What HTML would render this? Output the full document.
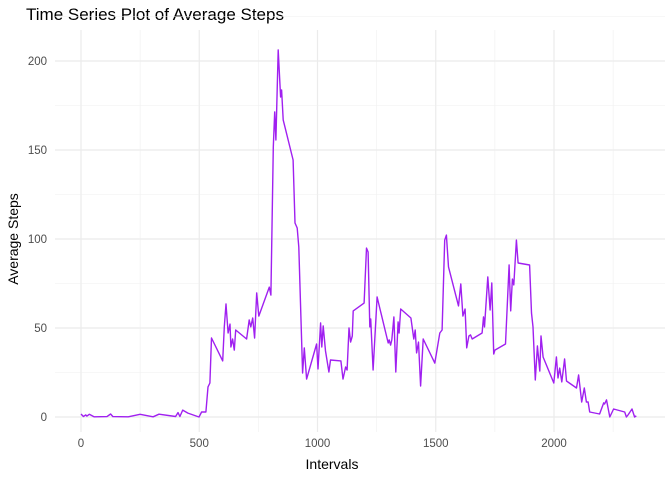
<!DOCTYPE html>
<html><head><meta charset="utf-8"><style>
body{margin:0;background:#fff;}
text{font-family:"Liberation Sans",sans-serif;}
</style></head><body>
<svg id="chart" width="672" height="480">
<text x="26" y="20" font-size="17" fill="#000">Time Series Plot of Average Steps</text>
<text x="332" y="469" font-size="14" text-anchor="middle" fill="#000">Intervals</text>
<text transform="translate(18,239) rotate(-90)" font-size="14" text-anchor="middle" fill="#000">Average Steps</text>
<g id="grid"></g><g id="ticks"></g><g id="series"></g>
</svg>
<script>
const intervals=[0,10,20,25,35,55,110,125,135,200,250,305,330,400,410,418,430,452,499,510,528,537,545,552,599,606,613,622,630,634,641,648,654,700,711,718,726,734,743,752,796,803,813,819,824,834,844,848,855,897,905,914,921,937,944,954,996,1002,1013,1018,1024,1034,1048,1055,1099,1108,1119,1125,1133,1140,1147,1151,1197,1207,1214,1221,1225,1235,1252,1299,1303,1309,1314,1323,1331,1341,1345,1352,1395,1407,1413,1419,1427,1436,1447,1496,1503,1517,1527,1538,1545,1554,1596,1606,1615,1624,1631,1640,1647,1654,1696,1702,1706,1720,1730,1737,1745,1750,1795,1810,1817,1824,1830,1841,1848,1897,1905,1911,1921,1930,1940,1945,1954,1999,2010,2017,2024,2033,2045,2053,2095,2104,2117,2128,2137,2144,2151,2193,2210,2214,2222,2236,2252,2299,2306,2313,2330,2341,2348];
const steps=[1.7,0.3,1.2,0.5,1.5,0.1,0.2,1.7,0.2,0.1,1.5,0.1,1.6,0.3,2.5,0.3,3.9,2.2,0,2.8,2.8,16.9,19.1,44.4,31.5,50.6,63.5,47.2,52.2,39.3,43.8,37.6,48.9,43.8,54.5,50.6,55.6,44.4,69.7,56.7,73,68.5,151.7,171.4,155.6,206.2,179.8,183.7,166.9,144.4,109,106.2,95.5,24.7,38.8,21.3,41,27,52.8,39.3,51.1,37.1,25.3,32,31.5,21.3,28.1,26.4,50,42.1,45.5,59.6,64,94.9,92.7,50.6,55.1,26.4,67.4,41.6,43.3,40.4,43.3,56.2,25.3,53.4,47.2,60.7,55.6,43.8,48.9,36,42.1,17.4,43.8,30.3,36,47.2,48.9,99.4,102.2,84.3,62.4,74.7,56.7,60.7,38.8,45.5,46.1,43.8,47.2,56.2,50.6,78.7,60.1,75.3,35.4,37.6,41,85.4,59.6,77.5,74.2,99.4,86.5,85.4,58.4,50.6,20.8,39.9,25.8,45.5,33.7,19.1,33.7,21.9,27.5,19.7,32.6,20.2,16.3,23.6,8.4,16.3,8.4,8.4,2.8,1.7,7.9,7.3,9.6,0,4.5,2.8,0,1.1,4.5,0,0.6];
const xTicks=[0,500,1000,1500,2000];
const yTicks=[0,50,100,150,200];
const X0=55,X1=665,Y0=30,Y1=432;
function xs(v){return 81+v*(554-81)/2000;}
function ys(v){return 417-v*(417-61)/200;}
const NS='http://www.w3.org/2000/svg';
const grid=document.getElementById('grid'),ticks=document.getElementById('ticks'),series=document.getElementById('series');
function line(p,x1,y1,x2,y2,c,w){const l=document.createElementNS(NS,'line');l.setAttribute('x1',x1);l.setAttribute('y1',y1);l.setAttribute('x2',x2);l.setAttribute('y2',y2);l.setAttribute('stroke',c);l.setAttribute('stroke-width',w);p.appendChild(l);return l;}
for(let i=0;i<xTicks.length;i++){
  const mx=xs(xTicks[i]+250);
  if(xTicks[i]+250<2400){const m=line(grid,mx,Y0,mx,Y1,'#f0f0f0',0.6);

}
  const g=line(grid,xs(xTicks[i]),Y0,xs(xTicks[i]),Y1,'#ebebeb',1.2);


  const t=document.createElementNS(NS,'text');t.setAttribute('x',xs(xTicks[i]));t.setAttribute('y',447);t.setAttribute('font-size','11.5');t.setAttribute('fill','#4d4d4d');t.setAttribute('text-anchor','middle');t.textContent=xTicks[i];


  ticks.appendChild(t);
}
for(let i=0;i<yTicks.length;i++){
  const mv=yTicks[i]+25;
  const m=line(grid,X0,ys(mv),X1,ys(mv),'#f0f0f0',0.6);


  const g=line(grid,X0,ys(yTicks[i]),X1,ys(yTicks[i]),'#ebebeb',1.2);


  const t=document.createElementNS(NS,'text');t.setAttribute('x',47);t.setAttribute('y',ys(yTicks[i])+4);t.setAttribute('font-size','11.5');t.setAttribute('fill','#4d4d4d');t.setAttribute('text-anchor','end');t.textContent=yTicks[i];


  ticks.appendChild(t);
}
const p=document.createElementNS(NS,'polyline');
p.setAttribute('points',intervals.map((v,i)=>xs(v).toFixed(1)+','+ys(steps[i]).toFixed(1)).join(' '));
p.setAttribute('fill','none');p.setAttribute('stroke','#a020f0');p.setAttribute('stroke-width','1.4');p.setAttribute('stroke-linejoin','round');


series.appendChild(p);
</script>
</body></html>
